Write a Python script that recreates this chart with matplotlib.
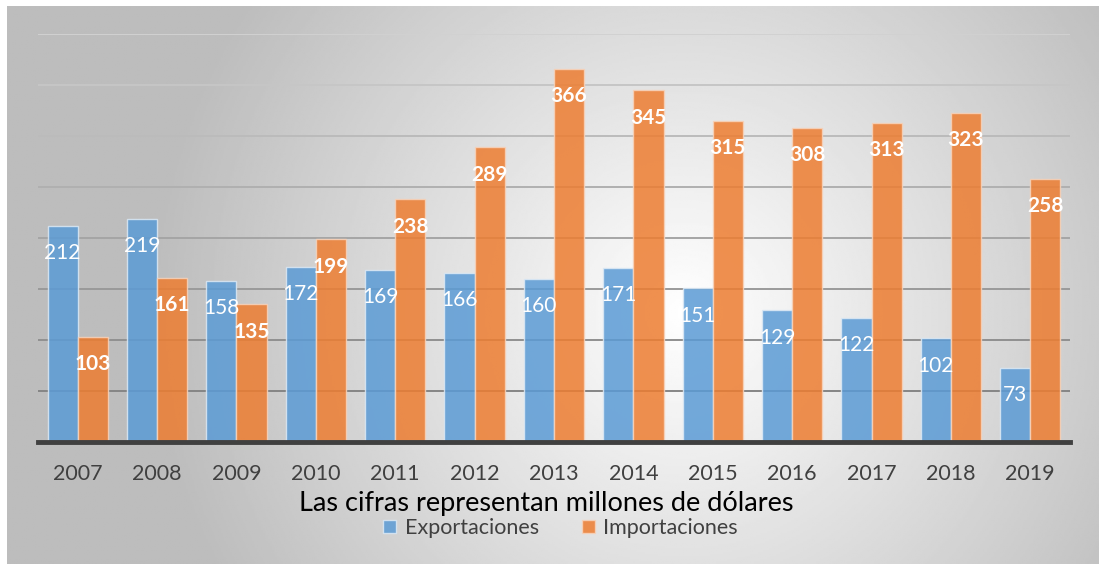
import matplotlib.pyplot as plt
import numpy as np
from matplotlib.patches import Patch

plt.rcParams['font.family'] = ['Lato', 'DejaVu Sans']

# datos
anios = ['2007', '2008', '2009', '2010', '2011', '2012', '2013',
         '2014', '2015', '2016', '2017', '2018', '2019']
exportaciones = [212, 219, 158, 172, 169, 166, 160, 171, 151, 129, 122, 102, 73]
importaciones = [103, 161, 135, 199, 238, 289, 366, 345, 315, 308, 313, 323, 258]

azul = '#5b9bd5'
naranja = '#ed7d31'

fig = plt.figure(figsize=(10.99, 5.64), dpi=100)

# fondo con degradado radial
bg = fig.add_axes([7 / 1099, 0, 1 - 7 / 1099, 1 - 6 / 564], zorder=-10)
yy, xx = np.mgrid[0:1:300j, 0:1:600j]
d = np.sqrt(((xx - 0.62) * 1.0) ** 2 + ((yy - 0.55) * 0.5) ** 2)
g = np.clip(1.0 - 0.32 * d / 0.6, 0.74, 1.0)
bg.imshow(g, cmap='gray', vmin=0, vmax=1, aspect='auto', extent=[0, 1, 1, 0])
bg.axis('off')

ax = fig.add_axes([38 / 1099, 122 / 564, 1032 / 1099, 408 / 564])
ax.patch.set_alpha(0)

x = np.arange(len(anios))
w = 0.38

# lineas de cuadricula, mas oscuras abajo
niveles = np.arange(50, 401, 50)
for i, nv in enumerate(niveles):
    c = 0.52 + 0.30 * i / (len(niveles) - 1)
    ax.axhline(nv, color=(c, c, c), linewidth=1.4, zorder=1)

b1 = ax.bar(x - w / 2, exportaciones, w, color=azul, alpha=0.85,
            edgecolor='#dce9f5', linewidth=1, zorder=3)
b2 = ax.bar(x + w / 2, importaciones, w, color=naranja, alpha=0.85,
            edgecolor='#f7d3bb', linewidth=1, zorder=3)

for r, v in zip(b1, exportaciones):
    ax.text(r.get_x() + r.get_width() / 2, v - 27, str(v), ha='center', va='center',
            color='white', fontsize=15, zorder=4)
for r, v in zip(b2, importaciones):
    ax.text(r.get_x() + r.get_width() / 2, v - 27, str(v), ha='center', va='center',
            color='white', fontsize=15, fontweight='bold', zorder=4)

ax.set_xlim(-0.5, len(anios) - 0.5)
ax.set_ylim(0, 400)
ax.set_yticks([])
ax.set_xticks(x)
ax.set_xticklabels(anios, fontsize=15.5, color='#404040')
ax.tick_params(axis='x', length=0, pad=16)
for s in ['top', 'right', 'left']:
    ax.spines[s].set_visible(False)
ax.spines['bottom'].set_color('#404040')
ax.spines['bottom'].set_linewidth(3.5)
ax.spines['bottom'].set_zorder(5)

fig.text(0.497, 1 - 503 / 564, 'Las cifras representan millones de dólares',
         ha='center', va='center', fontsize=19.5, color='black')

handles = [Patch(facecolor=azul, alpha=0.85, edgecolor='#dce9f5'),
           Patch(facecolor=naranja, alpha=0.85, edgecolor='#f7d3bb')]
leg = fig.legend(handles, ['Exportaciones', 'Importaciones'], loc='center',
                 bbox_to_anchor=(0.51, 1 - 528 / 564), ncol=2, frameon=False,
                 fontsize=15.5, handlelength=0.6, handleheight=0.6,
                 handletextpad=0.4, columnspacing=2.0)
for t in leg.get_texts():
    t.set_color('#404040')

fig.savefig('out.png', dpi=100)
